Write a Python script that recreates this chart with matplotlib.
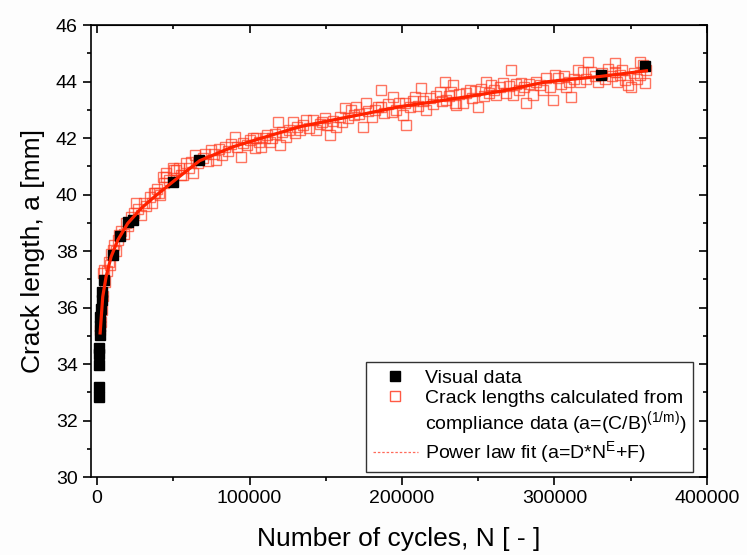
import matplotlib
matplotlib.use('Agg')
import matplotlib.pyplot as plt
from matplotlib.lines import Line2D
from matplotlib.ticker import MultipleLocator

plt.rcParams['font.family'] = ['Liberation Sans', 'DejaVu Sans']
plt.rcParams['mathtext.default'] = 'regular'

# Visual data (black squares)
visual_n = [1000, 1000, 1200, 1200, 1400, 1600, 1900, 2200, 2600, 3000, 3500, 4800,
            10300, 15300, 20100, 23400, 49600, 67000, 330700, 359600]
visual_a = [32.85, 33.2, 33.98, 34.37, 34.56, 35.03, 35.35, 35.65, 35.95, 36.25, 36.55, 36.97,
            37.86, 38.53, 39.04, 39.10, 40.45, 41.22, 44.23, 44.55]

# Crack lengths from compliance data (hollow red squares)
comp_n = [2200, 2600, 3000, 3700, 3700, 4800, 5500, 6500, 7500, 8500, 9000, 10300,
          11400, 12500, 13500, 14700, 16000, 17500, 19000, 20500, 22300, 24000, 25600, 27000,
          28900, 30500, 32000, 34400, 35700, 37600, 37800, 39000, 40900, 41100, 43100, 44000,
          45200, 45500, 47000, 49800, 50700, 52000, 54000, 55000, 56400, 58400, 60000, 61500,
          63000, 64100, 66000, 69500, 71000, 73000, 75000, 77000, 78300, 80000, 82000, 83700,
          86000, 88000, 90300, 92000, 94700, 95700, 98000, 100100, 102300, 103400, 104500, 106000,
          107800, 110000, 111500, 113200, 115000, 117000, 118700, 119800, 121500, 124200, 126000, 128500,
          129600, 131000, 132900, 135000, 137300, 139000, 141600, 143900, 146000, 147500, 149300, 151000,
          152600, 154500, 157000, 159000, 160500, 162400, 164600, 166800, 168500, 170100, 172000, 174400,
          176700, 178000, 180000, 182000, 184000, 186500, 186500, 188500, 190500, 193100, 194100, 196000,
          198000, 200700, 201800, 202900, 205500, 207000, 208300, 210500, 212700, 214000, 216000, 218200,
          220000, 222000, 224700, 226000, 228000, 229100, 231000, 232400, 233400, 234600, 235700, 237500,
          240000, 242000, 244400, 246000, 248000, 249800, 251500, 253500, 255300, 257000, 258600, 260500,
          261900, 264000, 266200, 268000, 270000, 271700, 272800, 274500, 276500, 278300, 280000, 281600,
          283500, 285900, 288000, 290300, 292500, 294700, 296900, 299000, 300500, 302300, 304500, 306000,
          307800, 309500, 311100, 313000, 315400, 317000, 318700, 320500, 322000, 324200, 326500, 328500,
          331000, 333000, 335000, 337500, 339500, 339500, 341000, 342800, 344500, 346000, 348200, 350400,
          352000, 354000, 355900, 355900, 358000, 359100, 360000]
comp_a = [35.2, 35.5, 35.9, 36.4, 37.21, 37.33, 36.9, 37.3, 37.6, 37.5, 37.9, 38.04,
          38.21, 38.0, 38.4, 38.57, 38.7, 38.6, 39.0, 38.9, 39.21, 39.35, 39.69, 39.5,
          39.27, 39.7, 39.6, 39.92, 39.69, 40.05, 40.04, 40.2, 40.04, 39.98, 40.63, 40.4,
          40.75, 40.63, 40.5, 40.93, 40.87, 40.87, 40.93, 40.7, 40.69, 41.10, 40.95, 41.15,
          40.75, 41.40, 41.1, 41.28, 41.45, 41.2, 41.58, 41.45, 41.22, 41.6, 41.4, 41.69,
          41.55, 41.8, 42.05, 41.7, 41.34, 41.81, 41.75, 41.93, 41.99, 41.64, 41.99, 41.85,
          41.69, 41.99, 42.1, 41.87, 42.0, 42.15, 42.58, 41.75, 42.2, 42.05, 42.3, 42.58,
          42.17, 42.4, 42.28, 42.45, 42.64, 42.35, 42.64, 42.28, 42.5, 42.55, 42.70, 42.45,
          42.11, 42.6, 42.40, 42.75, 42.55, 43.05, 42.70, 42.99, 42.8, 43.11, 42.85, 42.40,
          43.23, 42.95, 42.75, 43.0, 43.1, 43.70, 43.11, 42.9, 43.2, 42.93, 43.46, 43.0,
          43.25, 42.81, 43.23, 42.46, 43.1, 43.3, 43.46, 43.15, 43.76, 43.3, 42.99, 43.40,
          43.2, 43.5, 43.64, 43.3, 43.99, 43.35, 43.5, 43.64, 43.88, 43.23, 43.17, 43.55,
          43.23, 43.6, 43.70, 43.4, 43.65, 43.11, 43.75, 43.5, 43.99, 43.6, 43.88, 43.7,
          43.52, 43.8, 43.94, 43.6, 43.85, 44.41, 43.52, 43.9, 43.7, 43.94, 43.8, 43.23,
          43.9, 43.52, 44.0, 43.88, 43.7, 44.11, 43.82, 43.35, 44.23, 44.11, 43.9, 44.2,
          43.82, 44.0, 43.46, 44.1, 44.41, 44.0, 44.35, 44.1, 44.70, 44.35, 44.2, 43.99,
          44.3, 44.1, 44.45, 44.2, 44.64, 44.35, 44.0, 44.23, 44.4, 44.05, 43.88, 43.82,
          44.3, 44.1, 44.70, 44.23, 44.58, 43.94, 44.4]

# Power law fit curve
fit_n = [2000, 3700, 5900, 9200, 13600, 20100, 28900, 37600, 48500, 59500, 67350,
         89200, 111100, 132900, 154800, 176700, 198500, 220300, 242200, 264100,
         294700, 330000, 360300]
fit_a = [35.1, 36.38, 37.09, 37.80, 38.39, 38.98, 39.51, 39.92, 40.40, 40.87, 41.2,
         41.69, 42.05, 42.40, 42.64, 42.87, 43.11, 43.28, 43.46, 43.65,
         43.99, 44.18, 44.38]

fig = plt.figure(figsize=(7.47, 5.55), dpi=100, facecolor='#fdfdfd')
ax = fig.add_axes([0.1218, 0.1405, 0.8246, 0.8144], facecolor='#fdfdfd')

ax.plot(comp_n, comp_a, linestyle='none', marker='s', markersize=7,
        markerfacecolor='none', markeredgecolor='#ff3b1f', markeredgewidth=1.0, alpha=0.7, zorder=2)
ax.plot(visual_n, visual_a, linestyle='none', marker='s', markersize=7,
        color='black', zorder=3)
ax.plot(fit_n, fit_a, color='#ff2200', linewidth=2.3, zorder=4)

ax.set_xlim(-4000, 400000)
ax.set_ylim(30, 46)
ax.xaxis.set_major_locator(MultipleLocator(100000))
ax.xaxis.set_minor_locator(MultipleLocator(50000))
ax.yaxis.set_major_locator(MultipleLocator(2))
ax.yaxis.set_minor_locator(MultipleLocator(1))

ax.tick_params(which='both', direction='out', labelsize=14, width=1.2,
               top=False, right=False)
ax.tick_params(which='major', length=6)
ax.tick_params(which='minor', length=3)
for s in ax.spines.values():
    s.set_linewidth(1.2)

# inward ticks on top and right
sec_x = ax.secondary_xaxis('top')
sec_x.xaxis.set_major_locator(MultipleLocator(100000))
sec_x.xaxis.set_minor_locator(MultipleLocator(50000))
sec_x.tick_params(which='both', direction='in', labeltop=False, width=1.2)
sec_x.tick_params(which='major', length=6)
sec_x.tick_params(which='minor', length=3)
sec_y = ax.secondary_yaxis('right')
sec_y.yaxis.set_major_locator(MultipleLocator(2))
sec_y.yaxis.set_minor_locator(MultipleLocator(1))
sec_y.tick_params(which='both', direction='in', labelright=False, width=1.2)
sec_y.tick_params(which='major', length=6)
sec_y.tick_params(which='minor', length=3)

ax.set_xlabel('Number of cycles, N [ - ]', fontsize=19, labelpad=14)
ax.set_ylabel('Crack length, a [mm]', fontsize=19, labelpad=8)

handles = [
    Line2D([], [], linestyle='none', marker='s', markersize=7, color='black'),
    Line2D([], [], linestyle='none', marker='s', markersize=7,
           markerfacecolor='none', markeredgecolor='#ff5a45', markeredgewidth=1.0),
    Line2D([], [], linestyle='none'),
    Line2D([], [], color='#ff6a5a', linestyle=(0, (2, 1.5)), linewidth=0.9),
]
labels = ['Visual data',
          'Crack lengths calculated from',
          'compliance data (a=(C/B)$^{(1/m)}$)',
          'Power law fit (a=D*N$^{E}$+F)']
leg = ax.legend(handles, labels, loc='lower right', bbox_to_anchor=(0.977, 0.011),
                borderaxespad=0, fontsize=14, frameon=True, fancybox=False,
                edgecolor='#333333', framealpha=1, handlelength=2.3,
                handletextpad=0.35, labelspacing=0.12, borderpad=0.35)
leg.get_frame().set_linewidth(1.0)

fig.savefig('out.png', dpi=100, facecolor=fig.get_facecolor())
